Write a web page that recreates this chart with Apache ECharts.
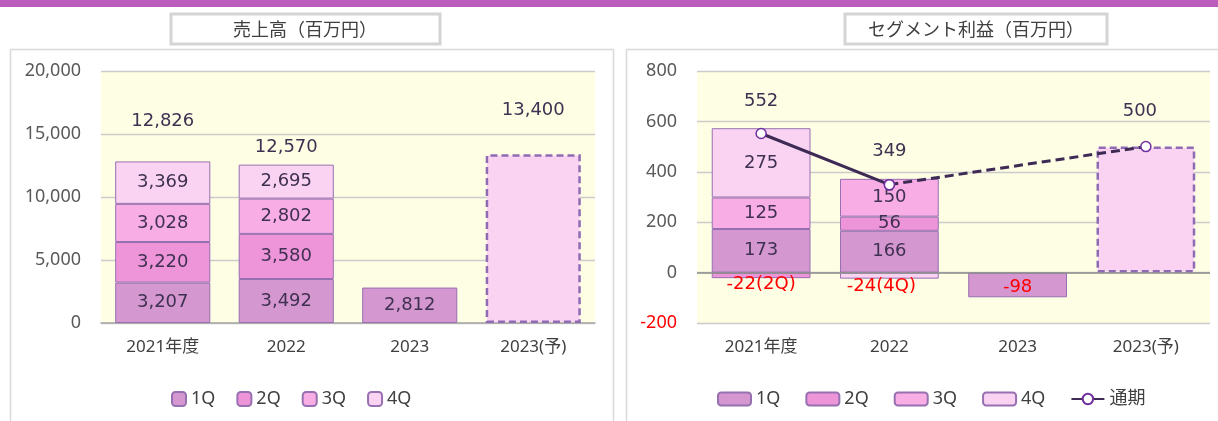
<!DOCTYPE html>
<html><head><meta charset="utf-8">
<script src="https://cdn.jsdelivr.net/npm/echarts@6/dist/echarts.min.js"></script>
<style>html,body{margin:0;padding:0;background:#fff}#c{width:1218px;height:421px}</style>
</head><body><div id="c"></div>
<script>
// ---- data ----
const categories = ['2021年度', '2022', '2023', '2023(予)'];
const quarterNames = ['1Q', '2Q', '3Q', '4Q'];
const lineName = '通期';
// 売上高（百万円）
const sales1Q = [3207, 3492, 2812, '-'];
const sales2Q = [3220, 3580, '-', '-'];
const sales3Q = [3028, 2802, '-', '-'];
const sales4Q = [3369, 2695, '-', '-'];
const salesForecast = ['-', '-', '-', 13400];
const salesTotal = [12826, 12570, '-', 13400];
const salesAxis = { min: 0, max: 20000, interval: 5000 };
// セグメント利益（百万円）
const profit1Q = [173, 166, -98, '-'];
const profit2Q = [-22, 56, '-', '-'];
const profit3Q = [125, 150, '-', '-'];
const profit4Q = [275, -24, '-', '-'];
const profitForecast = ['-', '-', '-', 500];
const profitTotalActual = [552, 349, '-', '-'];
const profitTotalForecast = ['-', 349, '-', 500];
const profitAxis = { min: -200, max: 800, interval: 200 };

// ---- styles ----
const COLORS = ['#D597CF', '#EE94D8', '#F8ADE5', '#FBD3F2'];
const BORDER = '#9670B0';
const LABEL = '#3F3151';
const NUMFONT = '"DejaVu Sans", Verdana, sans-serif';
const UIFONT = '"Noto Sans", "Noto Sans CJK JP", sans-serif';
const salesTotalOffset = [-26, -3, 0, -30];
const profitTotalOffset = [-12, -14, 0, -16];
const negOffset = { '2Q': [0, 9], '4Q': [-8, 11], '1Q': [0, 2] };

const fmt = v => Number(v).toLocaleString('en-US');

function stackSeries(idx, name, values, isProfit) {
  return {
    type: 'bar', name, stack: isProfit ? 'profit' : 'sales', xAxisIndex: idx, yAxisIndex: idx,
    barWidth: '77%',
    itemStyle: { color: COLORS[quarterNames.indexOf(name)], borderColor: BORDER, borderWidth: 1 },
    label: { show: true, position: 'inside', color: LABEL, fontFamily: NUMFONT, fontSize: 18, formatter: p => fmt(p.value) },
    data: values.map(v => {
      if (isProfit && typeof v === 'number' && v < 0) {
        const text = name === '1Q' ? String(v) : String(v) + '(' + name + ')';
        return { value: v, label: { color: '#FF0000', offset: negOffset[name], formatter: text } };
      }
      return v;
    })
  };
}

function forecastSeries(idx, values) {
  return {
    type: 'bar', name: '予想', stack: idx === 0 ? 'sales' : 'profit', xAxisIndex: idx, yAxisIndex: idx,
    barWidth: '77%',
    itemStyle: { color: COLORS[3], borderColor: '#8E6BB3', borderWidth: 2.5, borderType: [7, 4] },
    data: values
  };
}

const quarterSales = [sales1Q, sales2Q, sales3Q, sales4Q];
const quarterProfit = [profit1Q, profit2Q, profit3Q, profit4Q];

const series = [];
quarterNames.forEach((n, i) => series.push(stackSeries(0, n, quarterSales[i], false)));
series.push(forecastSeries(0, salesForecast));
series.push({
  type: 'scatter', name: 'salesTotal', xAxisIndex: 0, yAxisIndex: 0, symbolSize: 0, silent: true,
  itemStyle: { opacity: 1 },
  data: salesTotal.map((v, i) => v === '-' ? '-' : { value: v, label: { offset: [0, salesTotalOffset[i]] } }),
  label: { show: true, position: 'top', color: LABEL, fontFamily: NUMFONT, fontSize: 18, formatter: p => fmt(p.value) }
});
quarterNames.forEach((n, i) => series.push(stackSeries(1, n, quarterProfit[i], true)));
series[series.length - 4].markLine = {
  silent: true, symbol: 'none', label: { show: false },
  lineStyle: { color: '#8C8C8C', width: 1.5, type: 'solid' },
  data: [{ yAxis: 0 }]
};
series.push(forecastSeries(1, profitForecast));
const lineBase = {
  type: 'line', name: lineName, xAxisIndex: 1, yAxisIndex: 1, symbol: 'circle', symbolSize: 10,
  itemStyle: { color: '#FFFFFF', borderColor: '#7030A0', borderWidth: 1.5 },
  label: { show: true, position: 'top', color: LABEL, fontFamily: NUMFONT, fontSize: 18 },
  z: 5
};
series.push(Object.assign({}, lineBase, {
  lineStyle: { color: '#3D2A55', width: 3 },
  data: profitTotalActual.map((v, i) => v === '-' ? '-' : { value: v, label: { offset: [0, profitTotalOffset[i]] } })
}));
series.push(Object.assign({}, lineBase, {
  connectNulls: true,
  lineStyle: { color: '#3D2A55', width: 3, type: [9, 5] },
  data: profitTotalForecast.map((v, i) => v === '-' ? '-' :
    (profitTotalActual[i] !== '-' ? { value: v, label: { show: false } } : { value: v, label: { offset: [-6, profitTotalOffset[i]] } }))
}));

const grids = [
  { left: 101, top: 71, width: 494, height: 252, show: true, backgroundColor: '#FEFEE5', borderWidth: 0 },
  { left: 697, top: 71, width: 513, height: 252, show: true, backgroundColor: '#FEFEE5', borderWidth: 0 }
];
const xAxis = [0, 1].map(i => ({
  type: 'category', gridIndex: i, data: categories,
  axisLine: i === 0 ? { show: true, lineStyle: { color: '#A6A6A6', width: 1.5 } } : { show: false, onZero: false },
  axisTick: { show: false },
  axisLabel: { color: '#404040', fontFamily: UIFONT, fontSize: 17, margin: 16 }
}));
const yAxis = [salesAxis, profitAxis].map((a, i) => ({
  type: 'value', gridIndex: i, min: a.min, max: a.max, interval: a.interval,
  axisLine: { show: false }, axisTick: { show: false },
  splitLine: { lineStyle: { color: '#CBCBCB', width: 1.3 } },
  axisLabel: { fontFamily: UIFONT, fontSize: 18, margin: 20,
    color: v => (v < 0 ? '#FF0000' : '#595959'), formatter: v => fmt(v) }
}));

const legendText = { color: '#404040', fontFamily: UIFONT, fontSize: 18 };
const option = {
  animation: false,
  grid: grids, xAxis, yAxis, series,
  legend: [
    { data: quarterNames, left: 171, top: 390, padding: 0, itemWidth: 14, itemHeight: 14, itemGap: 21, textStyle: legendText, selectedMode: false },
    { data: quarterNames.concat([lineName]), left: 717, top: 390, padding: 0, itemWidth: 33, itemHeight: 13, itemGap: 25, textStyle: legendText, selectedMode: false }
  ],
  graphic: [
    { type: 'rect', shape: { x: 0, y: 0, width: 1218, height: 7 }, style: { fill: '#BC5CBC' }, silent: true },
    { type: 'rect', shape: { x: 10.5, y: 49.5, width: 603, height: 390 }, style: { fill: 'none', stroke: '#D9D9D9', lineWidth: 1.5 }, silent: true, z: -10 },
    { type: 'rect', shape: { x: 626.5, y: 49.5, width: 620, height: 390 }, style: { fill: 'none', stroke: '#D9D9D9', lineWidth: 1.5 }, silent: true, z: -10 },
    { type: 'rect', shape: { x: 171, y: 14, width: 269, height: 30 }, style: { fill: '#fff', stroke: '#D4D4D4', lineWidth: 3 }, silent: true },
    { type: 'text', x: 305, y: 29, style: { text: '売上高（百万円）', fill: '#404040', font: '18px "Noto Sans CJK JP", sans-serif', textAlign: 'center', textVerticalAlign: 'middle' }, silent: true },
    { type: 'rect', shape: { x: 845, y: 14, width: 262, height: 30 }, style: { fill: '#fff', stroke: '#D4D4D4', lineWidth: 3 }, silent: true },
    { type: 'text', x: 976, y: 29, style: { text: 'セグメント利益（百万円）', fill: '#404040', font: '18px "Noto Sans CJK JP", sans-serif', textAlign: 'center', textVerticalAlign: 'middle' }, silent: true }
  ]
};
const chart = echarts.init(document.getElementById('c'), null, { renderer: 'canvas' });
chart.setOption(option);
</script></body></html>
